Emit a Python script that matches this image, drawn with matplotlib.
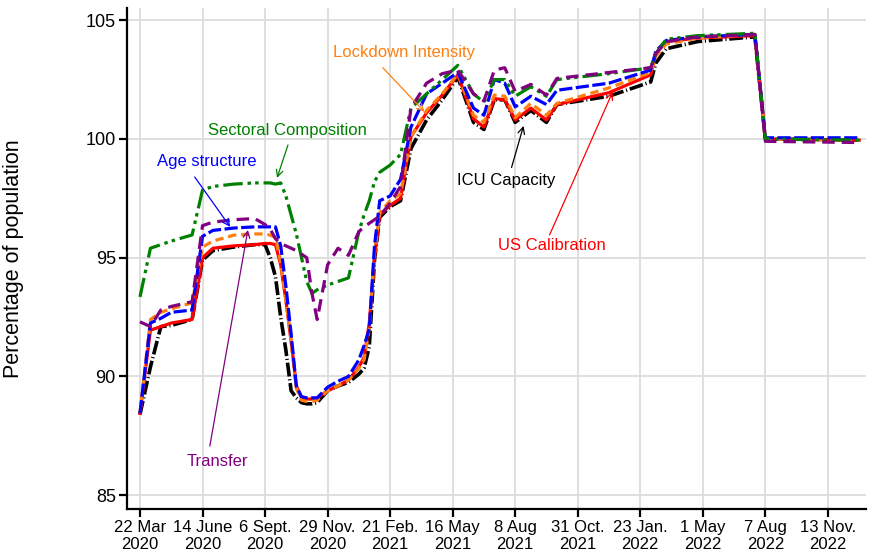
import matplotlib
matplotlib.use("Agg")
import matplotlib.pyplot as plt

plt.rcParams['font.family'] = ['Liberation Sans', 'DejaVu Sans']
plt.rcParams['lines.scale_dashes'] = False

# week index since 22 Mar 2020
weeks = [0, 2, 4, 6, 10, 12, 14, 18, 22, 24, 25, 26, 27, 28, 29, 30, 31, 32, 33, 34,
         36, 38, 40, 42, 43, 44, 45, 46, 48, 50, 52, 55, 58, 61, 64, 66, 68, 70, 72,
         75, 78, 80, 90, 98, 99, 101, 107, 118, 120, 138]

icu = [88.4, 90.4, 92.1, 92.15, 92.4, 94.9, 95.3, 95.45, 95.55, 95.55, 95.0, 94.2, 92.5, 91.1,
       89.4, 89.1, 88.9, 88.85, 88.85, 88.9, 89.4, 89.6, 89.75, 90.1, 90.35, 91.25, 94.9, 96.7,
       97.15, 97.4, 99.6, 100.8, 101.65, 102.6, 100.7, 100.4, 101.65, 101.65, 100.7, 101.2,
       100.7, 101.45, 101.8, 102.4, 103.2, 103.8, 104.1, 104.3, 100.0, 99.95]

us_cal = [88.45, 91.95, 92.1, 92.25, 92.4, 95.0, 95.4, 95.5, 95.55, 95.6, 95.6, 95.55, 94.7, 93.2,
          91.5, 89.6, 89.1, 89.05, 89.05, 89.1, 89.4, 89.6, 89.85, 90.4, 90.8, 92.25, 95.0, 96.8,
          97.2, 97.5, 100.1, 101.1, 101.85, 102.7, 100.85, 100.5, 101.7, 101.65, 100.8, 101.3,
          100.8, 101.45, 101.95, 102.7, 103.6, 104.1, 104.25, 104.35, 100.0, 99.95]

lockdown = [88.45, 92.4, 92.7, 92.85, 93.1, 95.45, 95.7, 95.95, 96.0, 96.0, 95.95, 95.85, 94.8, 93.2,
            91.5, 89.5, 89.0, 88.95, 88.95, 89.0, 89.4, 89.6, 89.85, 90.35, 90.7, 92.0, 95.2, 96.9,
            97.4, 97.7, 100.1, 101.2, 101.9, 102.75, 101.0, 100.7, 101.85, 101.8, 100.9, 101.5,
            101.0, 101.5, 102.15, 102.8, 103.5, 104.0, 104.25, 104.4, 100.0, 99.95]

age = [88.45, 92.25, 92.45, 92.7, 92.8, 95.9, 96.15, 96.25, 96.3, 96.3, 96.3, 96.3, 95.5, 93.8,
       91.8, 89.6, 89.15, 89.1, 89.1, 89.1, 89.55, 89.8, 90.0, 90.7, 91.3, 92.0, 95.5, 97.4,
       97.6, 98.3, 100.5, 101.9, 102.35, 102.8, 101.3, 101.0, 102.5, 102.35, 101.35, 101.8,
       101.45, 102.05, 102.35, 102.9, 103.7, 104.15, 104.3, 104.4, 100.05, 100.05]

sectoral = [93.35, 95.4, 95.55, 95.7, 95.96, 97.85, 98.0, 98.1, 98.15, 98.15, 98.15, 98.1, 98.15, 97.6,
            96.8, 96.0, 95.0, 94.0, 93.5, 93.65, 93.85, 94.0, 94.15, 96.1, 96.8, 97.4, 98.2, 98.6,
            98.9, 99.35, 101.3, 101.9, 102.5, 103.1, 101.9, 101.55, 102.5, 102.5, 101.8, 102.2,
            101.8, 102.5, 102.75, 103.0, 103.6, 104.2, 104.35, 104.45, 100.0, 99.95]

transfer = [92.3, 92.1, 92.8, 92.95, 93.15, 96.35, 96.5, 96.6, 96.65, 96.4, 96.2, 95.8, 95.6, 95.5,
            95.4, 95.3, 95.15, 95.0, 93.5, 92.4, 94.7, 95.4, 95.1, 96.1, 96.3, 96.45, 96.6, 96.75,
            97.3, 98.0, 101.3, 102.35, 102.75, 102.9, 101.9, 101.6, 102.9, 103.0, 102.0, 102.3,
            101.85, 102.55, 102.8, 103.0, 103.6, 104.1, 104.3, 104.4, 99.9, 99.85]

tick_weeks = [0, 12, 24, 36, 48, 60, 72, 84, 96, 108, 120, 132]
tick_labels = ["22 Mar\n2020", "14 June\n2020", "6 Sept.\n2020", "29 Nov.\n2020",
               "21 Feb.\n2021", "16 May\n2021", "8 Aug\n2021", "31 Oct.\n2021",
               "23 Jan.\n2022", "1 May\n2022", "7 Aug\n2022", "13 Nov.\n2022"]
y_ticks = [85, 90, 95, 100, 105]

fig = plt.figure(figsize=(8.72, 5.56), dpi=100)
ax = fig.add_axes([0.1456, 0.0845, 0.993 - 0.1456, 0.985 - 0.0845])

lw = 2.3
ax.plot(weeks, icu, color='black', lw=lw + 0.3, dashes=(10, 2, 0.8, 2), zorder=3)
ax.plot(weeks, us_cal, color='red', lw=lw, zorder=4)
ax.plot(weeks, lockdown, color='#ff7f0e', lw=lw, dashes=(6, 3.5), zorder=5)
ax.plot(weeks, age, color='blue', lw=lw, dashes=(9.5, 2.5), zorder=6)
ax.plot(weeks, sectoral, color='green', lw=lw, dashes=(14, 3.5, 2.5, 3, 2.5, 3.5), zorder=7)
ax.plot(weeks, transfer, color='purple', lw=lw, dashes=(9, 5), zorder=8)

ax.set_xlim(-2.5, 139.3)
ax.set_ylim(84.42, 105.5)
ax.set_xticks(tick_weeks)
ax.set_xticklabels(tick_labels, fontsize=12, linespacing=1.15)
ax.set_yticks(y_ticks)
ax.set_yticklabels([str(v) for v in y_ticks], fontsize=13)
ax.grid(True, color='#dcdcdc', lw=1.3, zorder=0)
ax.set_axisbelow(True)
for s in ['top', 'right']:
    ax.spines[s].set_visible(False)
for s in ['left', 'bottom']:
    ax.spines[s].set_linewidth(1.6)
ax.tick_params(axis='both', direction='out', length=6, width=1.6, colors='black', pad=2)
ax.set_ylabel("Percentage of population", fontsize=15.5, labelpad=44)

def note(text, color, txy, start, end):
    ax.text(txy[0], txy[1], text, color=color, fontsize=12, ha='center', va='center', zorder=10)
    ax.annotate('', xy=end, xytext=start,
                arrowprops=dict(arrowstyle='->', color=color, lw=0.9,
                                shrinkA=0, shrinkB=0, mutation_scale=12), zorder=10)

note("Sectoral Composition", 'green', (28.2, 100.34), (28.4, 99.75), (26.3, 98.36))
note("Age structure", 'blue', (12.8, 99.07), (10.5, 98.4), (17.3, 96.3))
note("Lockdown Intensity", '#ff7f0e', (50.6, 103.66), (46.6, 103.0), (54.6, 101.14))
note("ICU Capacity", 'black', (70.3, 98.27), (71.3, 98.8), (73.6, 100.55))
note("US Calibration", 'red', (79.0, 95.5), (78.6, 95.96), (90.7, 101.98))
note("Transfer", 'purple', (14.8, 86.44), (13.4, 87.07), (20.7, 96.17))

fig.savefig("out.png", dpi=100)
